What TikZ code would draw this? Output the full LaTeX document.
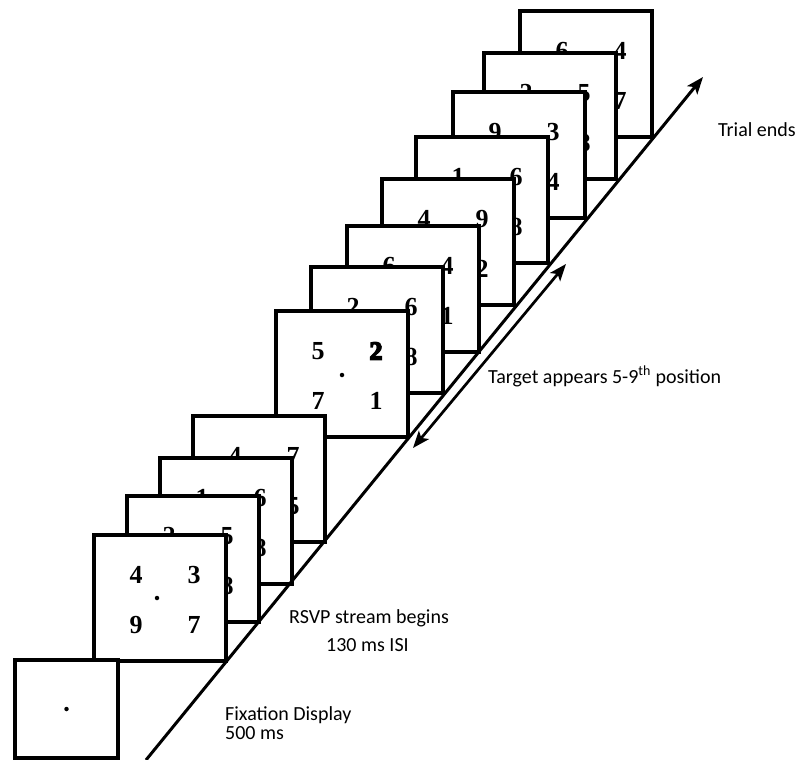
\documentclass[tikz,border=0pt]{standalone}
\usepackage{fontspec}
\setmainfont{Carlito}
\newfontfamily\digitfont{Liberation Serif}
\newfontfamily\heavydigitfont{Liberation Serif}[BoldFeatures={FakeBold=6}]
\usetikzlibrary{arrows.meta,calc}

\tikzset{
  screen/.style={draw, line width=3.1pt, fill=white, inner sep=0pt, outer sep=0pt,
    minimum width=132pt, minimum height=126pt, anchor=south east},
  digit/.style={inner sep=0pt, font=\digitfont\bfseries\fontsize{26}{26}\selectfont},
  targetdigit/.style={inner sep=0pt, font=\heavydigitfont\bfseries\fontsize{26}{26}\selectfont},
  fixdot/.style={circle, fill=black, inner sep=0pt, minimum size=4.5pt},
  stagetext/.style={inner sep=0pt, anchor=base west, font=\fontsize{20}{24}\selectfont},
  track/.style={line width=3pt},
  tip/.tip={Stealth[length=17pt, width=13pt, inset=4pt]},
}

% a screen of the stream, partly covered by the next one:
% name, lower right corner, upper left, upper right and lower right digit
\newcommand\streamscreen[5]{%
  \node[screen] (#1) at (#2) {};
  \node[digit] (#1-tl) at ($(#1.center)+(-24,-23)$) {#3};
  \node[digit] (#1-tr) at ($(#1.center)+(34,-23)$) {#4};
  \node[digit] (#1-br) at ($(#1.center)+(34,27)$) {#5};
}

\begin{document}
\begin{tikzpicture}[x=1pt, y=-1pt]
\useasboundingbox (0,0) rectangle (801,760);

% later part of the stream, back to front
\streamscreen{s12}{652,137}{6}{4}{7}
\streamscreen{s11}{616,179}{2}{5}{8}
\streamscreen{s10}{585,218}{9}{3}{4}
\streamscreen{s9}{548,263}{1}{6}{8}
\streamscreen{s8}{514,305}{4}{9}{2}
\streamscreen{s7}{479,352}{6}{4}{1}
\streamscreen{s6}{443,393}{2}{6}{8}

% screen holding the target
\node[screen] (s5) at (408,437) {};
\node[digit] (s5-tl) at ($(s5.center)+(-24,-23)$) {5};
\node[targetdigit] (s5-tr) at ($(s5.center)+(34,-23)$) {2};
\node[digit] (s5-bl) at ($(s5.center)+(-24,27)$) {7};
\node[digit] (s5-br) at ($(s5.center)+(34,27)$) {1};
\node[fixdot] (s5-dot) at ($(s5.center)+(0,1)$) {};

% first part of the stream, back to front
\streamscreen{s4}{325,542}{4}{7}{5}
\streamscreen{s3}{292,584}{1}{6}{8}
\streamscreen{s2}{259,622}{2}{5}{8}

\node[screen] (s1) at (226,661) {};
\node[digit] (s1-tl) at ($(s1.center)+(-24,-23)$) {4};
\node[digit] (s1-tr) at ($(s1.center)+(34,-23)$) {3};
\node[digit] (s1-bl) at ($(s1.center)+(-24,27)$) {9};
\node[digit] (s1-br) at ($(s1.center)+(34,27)$) {7};
\node[fixdot] (s1-dot) at ($(s1.center)+(-3,0)$) {};

% fixation display
\node[screen, anchor=north west, minimum width=103pt, minimum height=98pt] (fix) at (15,660) {};
\node[fixdot] (fix-dot) at (fix.center) {};

% time axis
\coordinate (track-start) at (146,760);
\coordinate (track-end) at (703,77);
\draw[track, -tip] (track-start) -- (track-end);

% window in which the target may appear
\coordinate (window-low) at (413,448);
\coordinate (window-high) at (566,264);
\draw[track, line width=2.7pt, tip-tip] (window-low) -- (window-high);

% captions
\node[stagetext] (cap-end) at (718,136) {Trial ends};
\node[stagetext] (cap-target) at (488,383) {Target appears 5-9\textsuperscript{th} position};
\node[stagetext] (cap-rsvp) at (289,623) {RSVP stream begins};
\node[stagetext] (cap-isi) at (326,651) {130 ms ISI};
\node[stagetext] (cap-fix) at (225,720) {Fixation Display};
\node[stagetext] (cap-fixtime) at (225,739) {500 ms};
\end{tikzpicture}
\end{document}
